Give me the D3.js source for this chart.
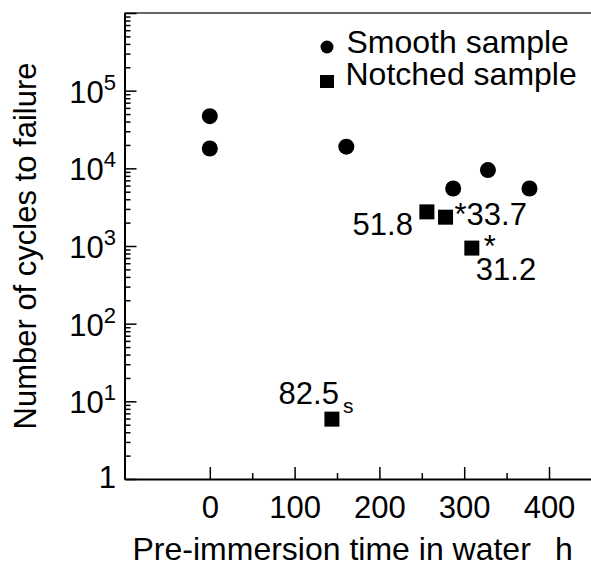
<!DOCTYPE html>
<html>
<head>
<meta charset="utf-8">
<script src="https://cdn.jsdelivr.net/npm/d3@7"></script>
<style>
  body { margin: 0; background: #fff; }
  svg { display: block; font-family: "Liberation Sans", Arial, sans-serif; }
</style>
</head>
<body>
<div class="main"></div>
<script>
// smooth sample (circles)
var smoothTime = [0, 0, 161, 287, 328, 377];
var smoothCycles = [47000, 18000, 19000, 5500, 9500, 5500];

// notched sample (squares)
var notchedTime = [144, 256, 278, 309];
var notchedCycles = [5.9, 2750, 2350, 940];

// tick values
var xMajor = [0, 100, 200, 300, 400];
var xMinor = [50, 150, 250, 350];
var yExponents = [0, 1, 2, 3, 4, 5];

var fullwidth = 591, fullheight = 564;
var svg = d3.select(".main")
  .append("svg")
  .attr("width", fullwidth)
  .attr("height", fullheight);

var plotLeft = 124.5, plotTop = 13, plotBottom = 479;

var x = d3.scaleLinear()
  .domain([-100, 450])
  .range([125, 591.4]);

var y = d3.scaleLog()
  .domain([1, 1e6])
  .range([plotBottom, plotTop]);

//minor ticks for log axis
var yMinor = [];
yExponents.forEach(function(e) {
  for (var m = 2; m <= 9; m++) yMinor.push(m * Math.pow(10, e));
});

//top border
svg.append("line")
  .attr("x1", plotLeft).attr("x2", fullwidth)
  .attr("y1", plotTop).attr("y2", plotTop)
  .attr("stroke", "#333").attr("stroke-width", 1.5);

//y axis, minor ticks
svg.append("g")
  .attr("transform", "translate(" + plotLeft + ",0)")
  .call(d3.axisLeft(y).tickValues(yMinor).tickSize(-6).tickSizeOuter(0).tickFormat(""))
  .call(function(g) { g.select(".domain").remove(); })
  .selectAll("line").attr("stroke-width", 1.5);

//y axis, major ticks + labels
var yAxis = svg.append("g")
  .attr("transform", "translate(" + plotLeft + ",0)")
  .call(d3.axisLeft(y).tickValues(yExponents.map(function(e) { return Math.pow(10, e); }).concat([1e6]))
    .tickSize(-12).tickSizeOuter(0).tickFormat(""));
yAxis.select(".domain").attr("stroke-width", 2);
yAxis.selectAll("line").attr("stroke-width", 1.5);

yExponents.forEach(function(e) {
  var t = svg.append("text")
    .attr("x", 116)
    .attr("y", y(Math.pow(10, e)) + (e === 0 ? 9 : 12))
    .attr("text-anchor", "end")
    .attr("font-size", 31);
  if (e === 0) {
    t.text("1");
  } else {
    t.append("tspan").text("10");
    t.append("tspan").attr("dy", -13).attr("font-size", 22).text(e);
  }
});

//x axis
svg.append("g")
  .attr("transform", "translate(0," + plotBottom + ")")
  .call(d3.axisBottom(x).tickValues(xMinor).tickSize(-6).tickSizeOuter(0).tickFormat(""))
  .call(function(g) { g.select(".domain").remove(); })
  .selectAll("line").attr("stroke-width", 1.5);

var xAxis = svg.append("g")
  .attr("transform", "translate(0," + plotBottom + ")")
  .call(d3.axisBottom(x).tickValues(xMajor).tickSize(-12).tickSizeOuter(0));
xAxis.select(".domain").attr("stroke-width", 2);
xAxis.selectAll("line").attr("stroke-width", 1.5);
xAxis.attr("font-family", null).attr("font-size", null);
xAxis.selectAll("text")
  .attr("y", 39).attr("dy", null)
  .attr("font-size", 31)
  .attr("fill", "#000");

//axis titles
svg.append("text")
  .attr("transform", "translate(36,246) rotate(-90)")
  .attr("text-anchor", "middle")
  .attr("font-size", 31)
  .text("Number of cycles to failure");

svg.append("text")
  .attr("x", 132.5).attr("y", 560)
  .attr("font-size", 32)
  .text("Pre-immersion time in water");
svg.append("text")
  .attr("x", 555).attr("y", 560)
  .attr("font-size", 32)
  .text("h");

//smooth points
svg.append("g")
  .selectAll("circle")
  .data(smoothTime)
  .join("circle")
  .attr("cx", function(d) { return x(d); })
  .attr("cy", function(d, i) { return y(smoothCycles[i]); })
  .attr("r", 8)
  .attr("fill", "#000");

//notched points
var sq = 15;
svg.append("g")
  .selectAll("rect")
  .data(notchedTime)
  .join("rect")
  .attr("x", function(d) { return x(d) - sq / 2; })
  .attr("y", function(d, i) { return y(notchedCycles[i]) - sq / 2; })
  .attr("width", sq)
  .attr("height", sq)
  .attr("fill", "#000");

//labels next to notched points
function px(i) { return x(notchedTime[i]); }
function py(i) { return y(notchedCycles[i]); }

svg.append("text").attr("font-size", 31).attr("text-anchor", "end")
  .attr("x", px(1) - 14).attr("y", py(1) + 23).text("51.8");
svg.append("text").attr("font-size", 31)
  .attr("x", px(2) + 9).attr("y", py(2) + 8).text("*33.7");
svg.append("text").attr("font-size", 31)
  .attr("x", px(3) + 12).attr("y", py(3) + 9).text("*");
svg.append("text").attr("font-size", 31)
  .attr("x", px(3) + 4).attr("y", py(3) + 32).text("31.2");
svg.append("text").attr("font-size", 31).attr("text-anchor", "end")
  .attr("x", px(0) + 7).attr("y", py(0) - 15).text("82.5");
svg.append("text").attr("font-size", 21)
  .attr("x", px(0) + 11).attr("y", py(0) - 6).text("s");

//legend
svg.append("circle")
  .attr("cx", 327).attr("cy", 47).attr("r", 6.5).attr("fill", "#000");
svg.append("text").attr("font-size", 32)
  .attr("x", 346.5).attr("y", 53).text("Smooth sample");
svg.append("rect")
  .attr("x", 320).attr("y", 75).attr("width", 14).attr("height", 13).attr("fill", "#000");
svg.append("text").attr("font-size", 32)
  .attr("x", 345.5).attr("y", 85).text("Notched sample");
</script>
</body>
</html>
